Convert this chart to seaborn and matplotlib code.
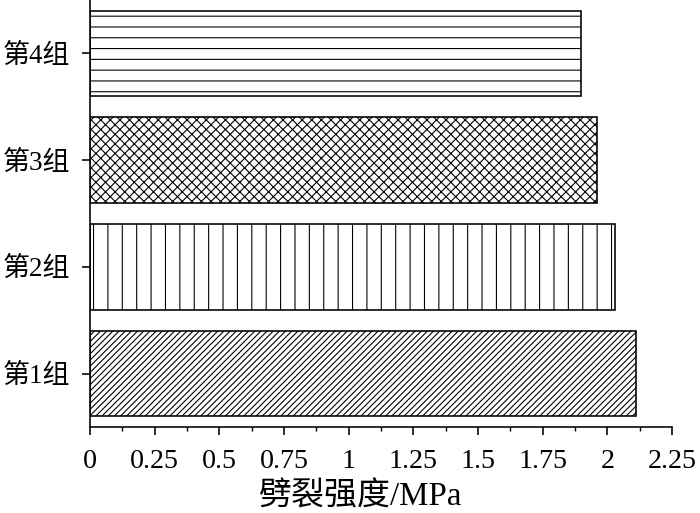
import matplotlib
matplotlib.use("Agg")
import matplotlib.pyplot as plt
import seaborn as sns
import pandas as pd
from matplotlib.ticker import FixedLocator, MultipleLocator

# ---- data ----
groups = ["第4组", "第3组", "第2组", "第1组"]
values = [1.90, 1.96, 2.03, 2.11]
hatches = ["----", "xxxxxxxxx", "|||", "//////////////"]
xticks = [0, 0.25, 0.5, 0.75, 1, 1.25, 1.5, 1.75, 2, 2.25]
xticklabels = ["0", "0.25", "0.5", "0.75", "1", "1.25", "1.5", "1.75", "2", "2.25"]
xlabel = "劈裂强度/MPa"

DPI = 259.2
W, H = 700, 513
def pt(px):
    return px * 72.0 / DPI

sns.set_style("ticks")
plt.rcParams["font.family"] = ["Liberation Serif", "Noto Sans CJK SC", "DejaVu Sans"]
plt.rcParams["hatch.linewidth"] = pt(1.1)
plt.rcParams["hatch.color"] = "black"

df = pd.DataFrame({"group": groups, "value": values})

fig = plt.figure(figsize=(W / DPI, H / DPI), dpi=DPI)
ax = fig.add_axes([90 / W, (H - 427) / H, (672 - 90) / W, 427 / H])

sns.barplot(data=df, x="value", y="group", order=groups, orient="h",
            color="white", saturation=1, edgecolor="black",
            linewidth=pt(1.6), width=0.8, ax=ax)

for patch, h in zip(ax.patches, hatches):
    patch.set_hatch(h)

ax.set_xlim(0, 2.25)
ax.set_ylim(3.5, -0.5)
ax.xaxis.set_major_locator(FixedLocator(xticks))
ax.set_xticklabels(xticklabels)
ax.xaxis.set_minor_locator(MultipleLocator(0.125))

sns.despine(ax=ax)
for s in ["left", "bottom"]:
    ax.spines[s].set_linewidth(pt(1.6))
    ax.spines[s].set_color("black")

ax.tick_params(axis="both", which="major", direction="out", length=pt(8),
               width=pt(1.6), color="black", labelcolor="black")
ax.tick_params(axis="x", which="major", pad=pt(14), labelsize=pt(28))
ax.tick_params(axis="y", which="major", pad=pt(12), labelsize=pt(27))
ax.tick_params(axis="x", which="minor", direction="out", length=pt(4),
               width=pt(1.4), color="black")
ax.set_ylabel("")
ax.set_xlabel(xlabel, fontsize=pt(33), color="black")
ax.xaxis.set_label_coords((360 - 90) / 582, (427 - 482) / 427)

fig.savefig("out.png", dpi=DPI, facecolor="white")
